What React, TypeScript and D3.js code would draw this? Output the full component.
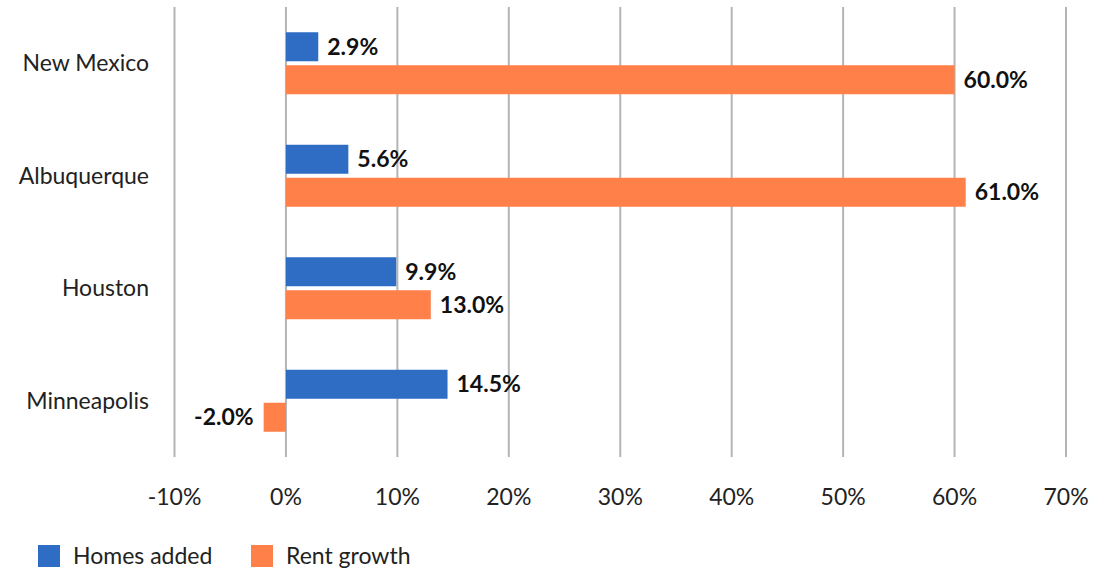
import React from "react";
import * as d3 from "d3";

const categories = ["New Mexico", "Albuquerque", "Houston", "Minneapolis"];
const homesAdded = [2.9, 5.6, 9.9, 14.5];
const rentGrowth = [60.0, 61.0, 13.0, -2.0];
const xTicks = [-10, 0, 10, 20, 30, 40, 50, 60, 70];
const seriesNames = ["Homes added", "Rent growth"];
const seriesColors = ["#2E6DC3", "#FF8049"];

export default function App() {
  const W = 1109, H = 570;
  const left = 174.5, right = 1066, top = 7, bottom = 457;
  const x = d3.scaleLinear().domain([-10, 70]).range([left, right]);
  const y = d3.scaleBand<string>().domain(categories).range([top, bottom]);
  const barH = 29, gap = 4;
  const font = "Lato, 'Open Sans', sans-serif";
  const series = [homesAdded, rentGrowth];
  const fs = 23;

  return (
    <svg width={W} height={H} style={{ position: "absolute", left: 0, top: 0, background: "#fff" }} fontFamily={font}>
      {xTicks.map((t) => (
        <line key={t} x1={x(t)} x2={x(t)} y1={top} y2={bottom} stroke="#B4B4B4" strokeWidth={2} />
      ))}
      {xTicks.map((t) => (
        <text key={"t" + t} x={x(t)} y={505} textAnchor="middle" fontSize={fs} fill="#222">{t}%</text>
      ))}
      {categories.map((c) => (
        <text key={c} x={149} y={(y(c) as number) + y.bandwidth() / 2} dy="0.35em" textAnchor="end" fontSize={fs} fill="#222">{c}</text>
      ))}
      {categories.map((c, i) => {
        const center = (y(c) as number) + y.bandwidth() / 2;
        return series.map((s, k) => {
          const v = s[i];
          const y0 = k === 0 ? center - gap / 2 - barH : center + gap / 2;
          const x0 = x(Math.min(0, v));
          const w = Math.abs(x(v) - x(0));
          const lx = v >= 0 ? x(v) + 9 : x(v) - 10;
          return (
            <g key={c + k}>
              <rect x={x0} y={y0} width={w} height={barH} fill={seriesColors[k]} />
              <text x={lx} y={y0 + barH / 2} dy="0.35em" textAnchor={v >= 0 ? "start" : "end"} fontSize={fs} fontWeight="bold" fill="#111">{v.toFixed(1)}%</text>
            </g>
          );
        });
      })}
      {seriesNames.map((n, k) => {
        const lx = k === 0 ? 38 : 251;
        return (
          <g key={n}>
            <rect x={lx} y={545} width={22} height={22} fill={seriesColors[k]} />
            <text x={lx + 35} y={556} dy="0.35em" fontSize={fs} fill="#222">{n}</text>
          </g>
        );
      })}
    </svg>
  );
}
